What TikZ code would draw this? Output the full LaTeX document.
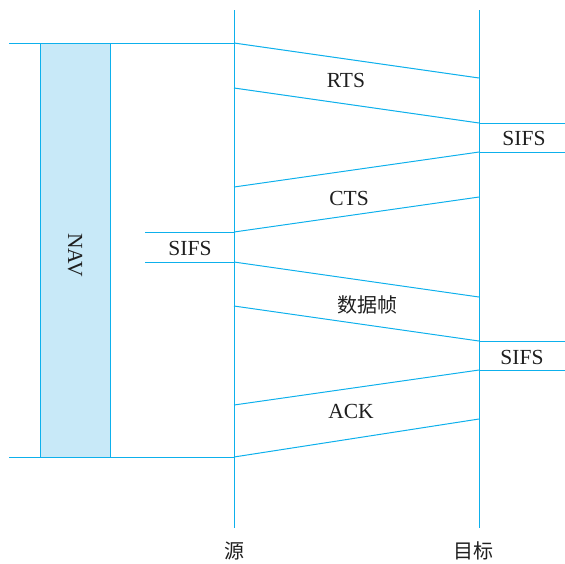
\documentclass[tikz,border=0pt]{standalone}
\usepackage{fontspec}
\setmainfont{Liberation Serif}
\newfontfamily\cjk{Noto Sans CJK SC}
\definecolor{wire}{HTML}{0DB0EC}
\definecolor{navfill}{HTML}{C8E9F8}
\begin{document}
\begin{tikzpicture}[x=1pt,y=-1pt,
  wire/.style={draw=wire,line width=1pt},
  lbl/.style={font=\fontsize{21.5}{24}\selectfont,text=black!88,inner sep=0pt},
  cjklbl/.style={font=\cjk\fontsize{20}{24}\selectfont,text=black!88,inner sep=0pt}]
\useasboundingbox (0,0) rectangle (565,563);
% time axes of the two stations
\coordinate (srcTop) at (234,10);
\coordinate (srcBot) at (234,528);
\coordinate (dstTop) at (479,10);
\coordinate (dstBot) at (479,528);
\draw[wire] (srcTop) -- (srcBot);
\draw[wire] (dstTop) -- (dstBot);
% NAV interval
\coordinate (navL) at (9,43);
\coordinate (navR) at (234,43);
\coordinate (navLb) at (9,457);
\coordinate (navRb) at (234,457);
\draw[wire,fill=navfill] (40,43) rectangle (110,457);
\node[lbl,rotate=-90] (nav) at (75,255) {NAV};
\draw[wire] (navL) -- (navR);
\draw[wire] (navLb) -- (navRb);
% RTS
\coordinate (r1) at (234,43);  \coordinate (r2) at (479,78);
\coordinate (r3) at (234,88);  \coordinate (r4) at (479,123);
\draw[wire] (r1) -- (r2);
\draw[wire] (r3) -- (r4);
\node[lbl] (rts) at (346,80) {RTS};
% SIFS at destination
\coordinate (s1a) at (479,123); \coordinate (s1b) at (565,123);
\coordinate (s1c) at (479,152); \coordinate (s1d) at (565,152);
\draw[wire] (s1a) -- (s1b);
\draw[wire] (s1c) -- (s1d);
\node[lbl] (sifs1) at (524,138) {SIFS};
% CTS
\coordinate (c1) at (479,152); \coordinate (c2) at (234,187);
\coordinate (c3) at (479,197); \coordinate (c4) at (234,232);
\draw[wire] (c1) -- (c2);
\draw[wire] (c3) -- (c4);
\node[lbl] (cts) at (349,198) {CTS};
% SIFS at source
\coordinate (s2a) at (145,232); \coordinate (s2b) at (234,232);
\coordinate (s2c) at (145,262); \coordinate (s2d) at (234,262);
\draw[wire] (s2a) -- (s2b);
\draw[wire] (s2c) -- (s2d);
\node[lbl] (sifs2) at (190,248) {SIFS};
% data frame
\coordinate (d1) at (234,262); \coordinate (d2) at (479,297);
\coordinate (d3) at (234,306); \coordinate (d4) at (479,341);
\draw[wire] (d1) -- (d2);
\draw[wire] (d3) -- (d4);
\node[cjklbl] (data) at (367,305) {数据帧};
% SIFS at destination
\coordinate (s3a) at (479,341); \coordinate (s3b) at (565,341);
\coordinate (s3c) at (479,370); \coordinate (s3d) at (565,370);
\draw[wire] (s3a) -- (s3b);
\draw[wire] (s3c) -- (s3d);
\node[lbl] (sifs3) at (522,357) {SIFS};
% ACK
\coordinate (a1) at (479,370); \coordinate (a2) at (234,405);
\coordinate (a3) at (479,419); \coordinate (a4) at (234,457);
\draw[wire] (a1) -- (a2);
\draw[wire] (a3) -- (a4);
\node[lbl] (ack) at (351,411) {ACK};
% station names
\node[cjklbl] (src) at (234,551) {源};
\node[cjklbl] (dst) at (473,551) {目标};
\end{tikzpicture}
\end{document}
